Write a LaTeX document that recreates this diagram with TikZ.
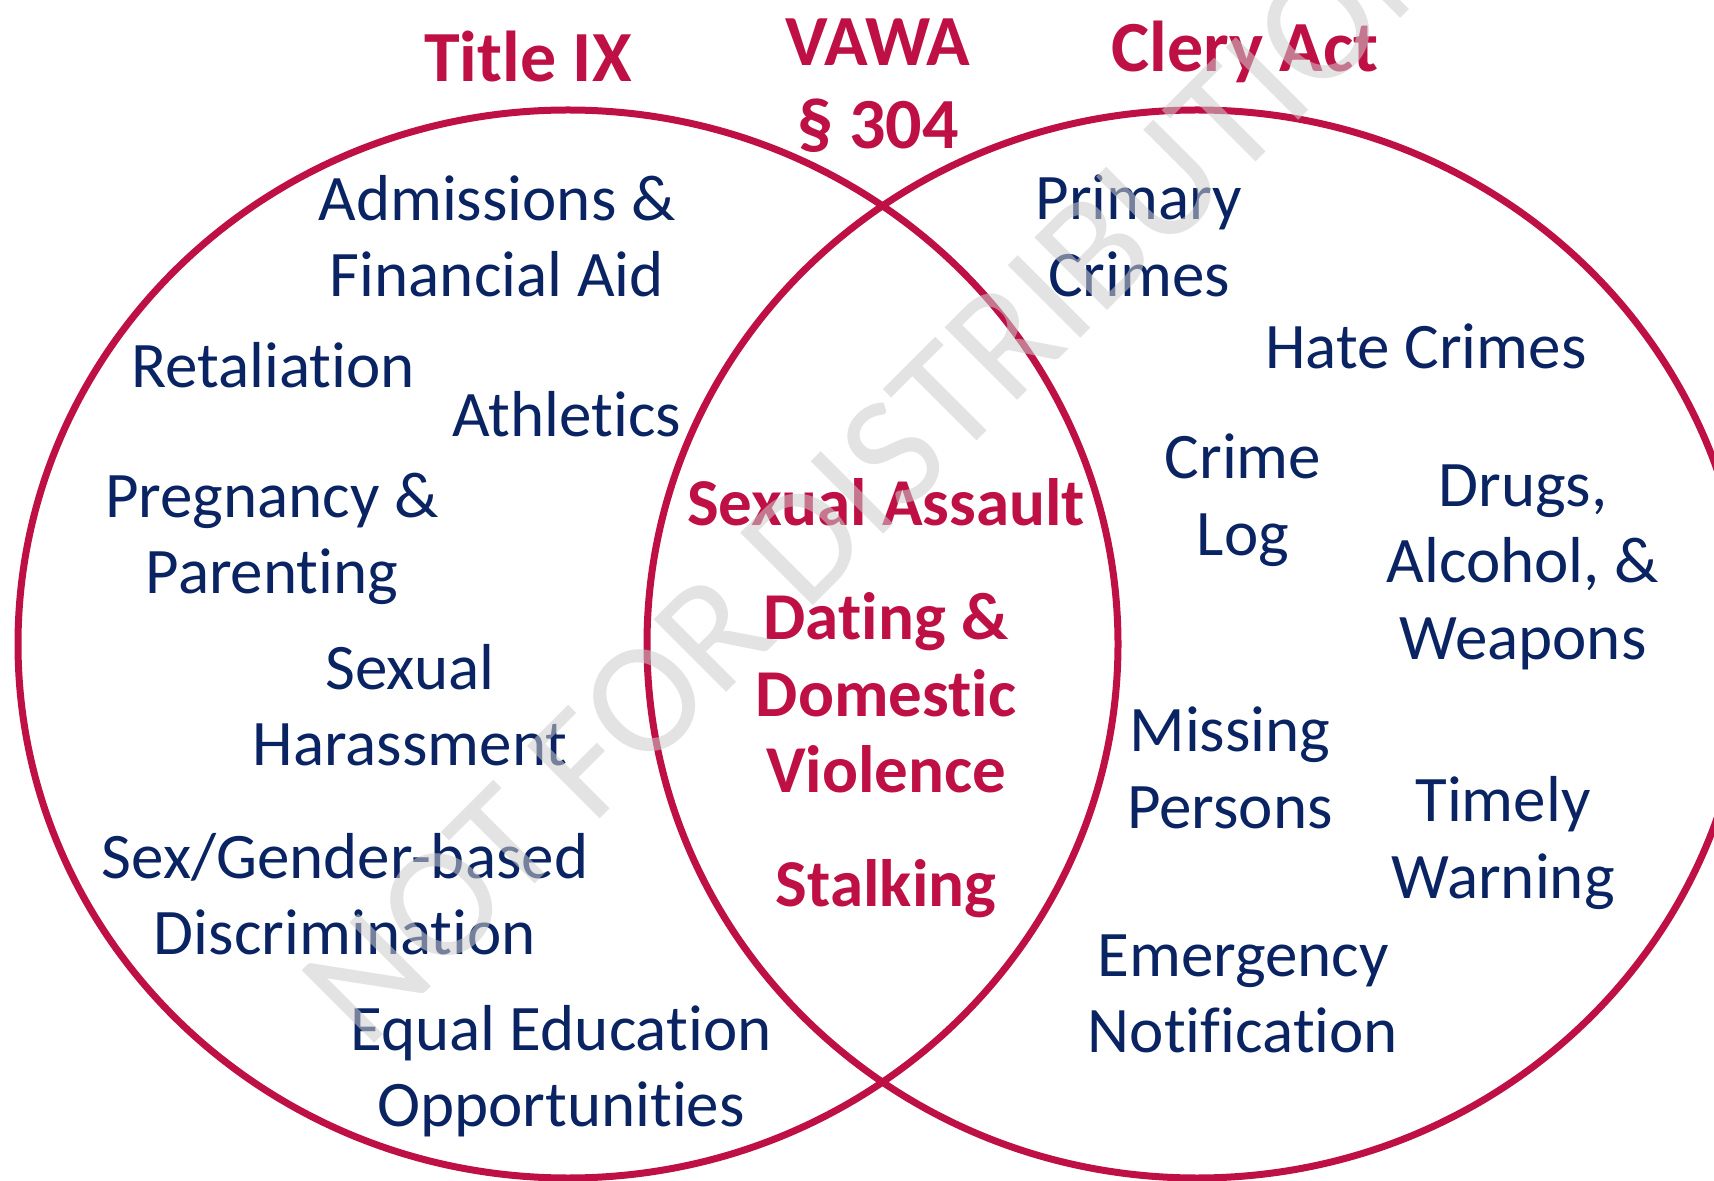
\documentclass[tikz,border=0pt]{standalone}
\usepackage{fontspec}
\setmainfont{Carlito}[Ligatures=NoCommon]
\usepackage{tikz}
\definecolor{vennred}{RGB}{190,16,69}
\definecolor{vennblue}{RGB}{10,36,99}

\begin{document}
\begin{tikzpicture}[x=0.5pt, y=-0.5pt,
    every node/.style={align=center, inner sep=0pt},
    item/.style={text=vennblue, font=\fontsize{32.5}{38.25}\selectfont},
    shared/.style={text=vennred, font=\fontsize{33.5}{38.25}\selectfont\bfseries},
    law/.style={text=vennred, font=\fontsize{36}{41.5}\selectfont\bfseries}]
    % canvas
    \useasboundingbox (0,0) rectangle (1714,1181);
    \clip (0,0) rectangle (1714,1181);

    % circles
    \draw[vennred, line width=3.5pt] (568,644) ellipse [x radius=550, y radius=534];
    \draw[vennred, line width=3.5pt] (1197,644) ellipse [x radius=550, y radius=534];

    % headings
    \node[law] (titleix) at (528,57) {Title IX};
    \node[law] (vawa) at (878,86) {VAWA\\\S\ 304};
    \node[law] (clery) at (1245,52) {Clery Act};

    % left side
    \node[item] (admissions) at (497,236) {Admissions \&\\Financial Aid};
    \node[item] (retaliation) at (273,365) {Retaliation};
    \node[item] (athletics) at (567,414) {Athletics};
    \node[item] (pregnancy) at (272,539) {Pregnancy \&\\Parenting};
    \node[item] (harassment) at (410,705) {Sexual\\Harassment};
    \node[item] (discrimination) at (345,894) {Sex/Gender-based\\Discrimination};
    \node[item] (education) at (561,1071) {Equal Education\\Opportunities};

    % overlap
    \node[shared] (assault) at (886,502) {Sexual Assault};
    \node[shared] (dating) at (886,693) {Dating \&\\Domestic\\Violence};
    \node[shared] (stalking) at (886,889) {Stalking};

    % right side
    \node[item] (primary) at (1139,236) {Primary\\Crimes};
    \node[item] (hate) at (1426,346) {Hate Crimes};
    \node[item] (crimelog) at (1243,500) {Crime\\Log};
    \node[item] (drugs) at (1523,567) {Drugs,\\Alcohol, \&\\Weapons};
    \node[item] (missing) at (1230,768) {Missing\\Persons};
    \node[item] (timely) at (1503,843) {Timely\\Warning};
    \node[item] (emergency) at (1243,994) {Emergency\\Notification};

    % watermark
    \node[rotate=45, text=black!20, text opacity=0.55,
          font=\fontsize{80}{80}\selectfont] (stamp) at (880,466) {NOT FOR DISTRIBUTION};
\end{tikzpicture}
\end{document}
